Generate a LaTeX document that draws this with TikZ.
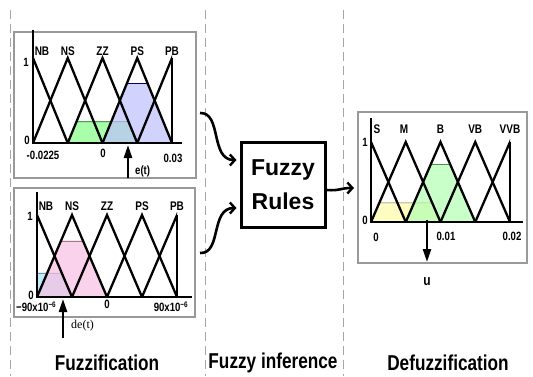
\documentclass[tikz,border=0pt]{standalone}
\usepackage{fontspec}
\setmainfont{Liberation Sans}
\newfontfamily\narrowsf{Liberation Sans}[FakeStretch=0.8]
\newfontfamily\serifdt{Liberation Serif}
\usetikzlibrary{arrows.meta}

\tikzset{
  panel/.style={draw=black!40, line width=1.1pt},
  stage/.style={draw=black!35, line width=1pt, dash pattern=on 9pt off 5pt},
  mf/.style={line width=2.3pt, line join=miter},
  axisline/.style={line width=2.6pt},
  setlab/.style={font={\narrowsf\fontsize{12.5}{13}\selectfont\bfseries}, inner sep=0pt},
  ticklab/.style={font={\narrowsf\fontsize{12}{12}\selectfont\bfseries}, inner sep=0pt},
  sectlab/.style={font={\narrowsf\fontsize{21.5}{22}\selectfont\bfseries}, inner sep=0pt},
  crisp/.style={line width=2.4pt, -{Triangle[length=13pt,width=8pt]}},
  flow/.style={line width=2.6pt, -{Straight Barb[length=5pt,width=11pt,line width=2.4pt]}},
}

\begin{document}
\begin{tikzpicture}[x=1pt,y=-1pt]
\useasboundingbox (0,0) rectangle (533,376);

% stage separators
\draw[stage] (10,10) -- (10,376);
\draw[stage] (205,10) -- (205,376);
\draw[stage] (343,10) -- (343,376);

% panels
\draw[panel] (14,32) rectangle (196,178);
\draw[panel] (14,188) rectangle (195,317);
\draw[panel] (358,112) rectangle (527,263);

%%% e(t)
\filldraw[fill=green!45!white, draw=green!40!black, line width=0.6pt, fill opacity=0.75]
  (67.75,143) -- (76.4,121.75) -- (128.6,121.75) -- (137.25,143);
\filldraw[fill=blue!25!white, draw=blue!40!black, line width=0.6pt, fill opacity=0.7]
  (102.5,143) -- (126.8,83.5) -- (147.7,83.5) -- (172,143);
\begin{scope}
\clip (33,40) rectangle (172,150);
\foreach \p in {33,67.75,102.5,137.25,172}
  \draw[mf] (\p-34.75,143) -- (\p,58) -- (\p+34.75,143);
\end{scope}
\draw[mf] (172,58) -- (172,143);
\draw[axisline] (33,30) -- (33,143) -- (182,143);
\foreach \n/\x in {NB/42,NS/67.75,ZZ/102.5,PS/137.25,PB/172}
  \node[setlab] (e\n) at (\x,51) {\n};
\node[ticklab] (eone) at (26,62) {1};
\node[ticklab] (ezero) at (27,140) {0};
\node[ticklab] (emin) at (43,155) {-0.0225};
\node[ticklab] (emid) at (103,153) {0};
\node[ticklab] (emax) at (173,158) {0.03};
\coordinate (etail) at (128,178);
\coordinate (ehead) at (128,145);
\draw[crisp] (etail) -- (ehead);
\node[font={\narrowsf\fontsize{12}{12}\selectfont\bfseries}, anchor=west, inner sep=0pt] (elab) at (135,171) {e(t)};

%%% de(t)
\filldraw[fill=cyan!30!white, draw=cyan!40!black, line width=0.6pt, fill opacity=0.8]
  (37,297) -- (37,273.2) -- (61.85,273.2) -- (72,297);
\filldraw[fill=magenta!25!white, draw=magenta!40!black, line width=0.6pt, fill opacity=0.7]
  (37,297) -- (60.8,241.2) -- (83.2,241.2) -- (107,297);
\begin{scope}
\clip (37,200) rectangle (177,305);
\foreach \p in {37,72,107,142,177}
  \draw[mf] (\p-35,297) -- (\p,215) -- (\p+35,297);
\end{scope}
\draw[mf] (177,215) -- (177,297);
\draw[axisline] (37,192) -- (37,297) -- (192,297);
\foreach \n/\x in {NB/46,NS/72,ZZ/107,PS/142,PB/177}
  \node[setlab] (d\n) at (\x,206) {\n};
\node[ticklab] (done) at (30,216) {1};
\node[ticklab] (dzero) at (31,295) {0};
\node[ticklab, anchor=west] (dmin) at (16,307) {−90x10\textsuperscript{−6}};
\node[ticklab] (dmid) at (107,304) {0};
\node[ticklab] (dmax) at (171,307) {90x10\textsuperscript{−6}};
\coordinate (dtail) at (63,338);
\coordinate (dhead) at (63,299);
\draw[crisp] (dtail) -- (dhead);
\node[font={\fontsize{12}{12}\selectfont\serifdt}, anchor=west, inner sep=0pt] (dlab) at (71,326) {de(t)};

%%% rules
\node[draw, line width=3pt, minimum width=84pt, minimum height=85pt, align=center,
  font={\fontsize{23}{34}\selectfont\bfseries}] (rules) at (283,184.5) {Fuzzy\\Rules};
\coordinate (efrom) at (200,113);
\coordinate (dfrom) at (200,253);
\draw[flow] (efrom) .. controls (222,112) and (210,160) .. ([xshift=-3pt]rules.west |- 0,160);
\draw[flow] (dfrom) .. controls (222,254) and (210,208) .. ([xshift=-3pt]rules.west |- 0,208);

%%% u
\filldraw[fill=yellow!30!white, draw=olive!60!black, line width=0.6pt, fill opacity=0.8]
  (371,222) -- (379.3,202.8) -- (432.2,202.8) -- (440.5,222);
\filldraw[fill=green!30!white, draw=green!35!black, line width=0.6pt, fill opacity=0.7]
  (405.75,222) -- (430.8,164.4) -- (450.2,164.4) -- (475.25,222);
\begin{scope}
\clip (371,130) rectangle (510,230);
\foreach \p in {371,405.75,440.5,475.25,510}
  \draw[mf] (\p-34.75,222) -- (\p,142) -- (\p+34.75,222);
\end{scope}
\draw[mf] (510,142) -- (510,222);
\draw[axisline] (371,118) -- (371,222) -- (523,222);
\foreach \n/\x in {S/377,M/404,B/440.5,VB/475.25,VVB/510}
  \node[setlab] (u\n) at (\x,129) {\n};
\node[ticklab] (uone) at (365,142) {1};
\node[ticklab] (uzero) at (365,220) {0};
\node[ticklab] (umin) at (376,237) {0};
\node[ticklab] (umid) at (446,236) {0.01};
\node[ticklab] (umax) at (512,236) {0.02};
\coordinate (utail) at (427,220);
\coordinate (uhead) at (427,262);
\draw[crisp] (utail) -- (uhead);
\node[font={\narrowsf\fontsize{15}{15}\selectfont\bfseries}, inner sep=0pt] (ulab) at (427,282) {u};
\coordinate (uin) at (354,188);
\draw[flow] (rules.east |- 0,190) .. controls (340,191) and (340,188) .. (uin);

% stage names
\node[sectlab] (fuzz) at (107,363) {Fuzzification};
\node[sectlab] (infer) at (273,363) {Fuzzy inference};
\node[sectlab] (defuzz) at (448,363) {Defuzzification};

\end{tikzpicture}
\end{document}
